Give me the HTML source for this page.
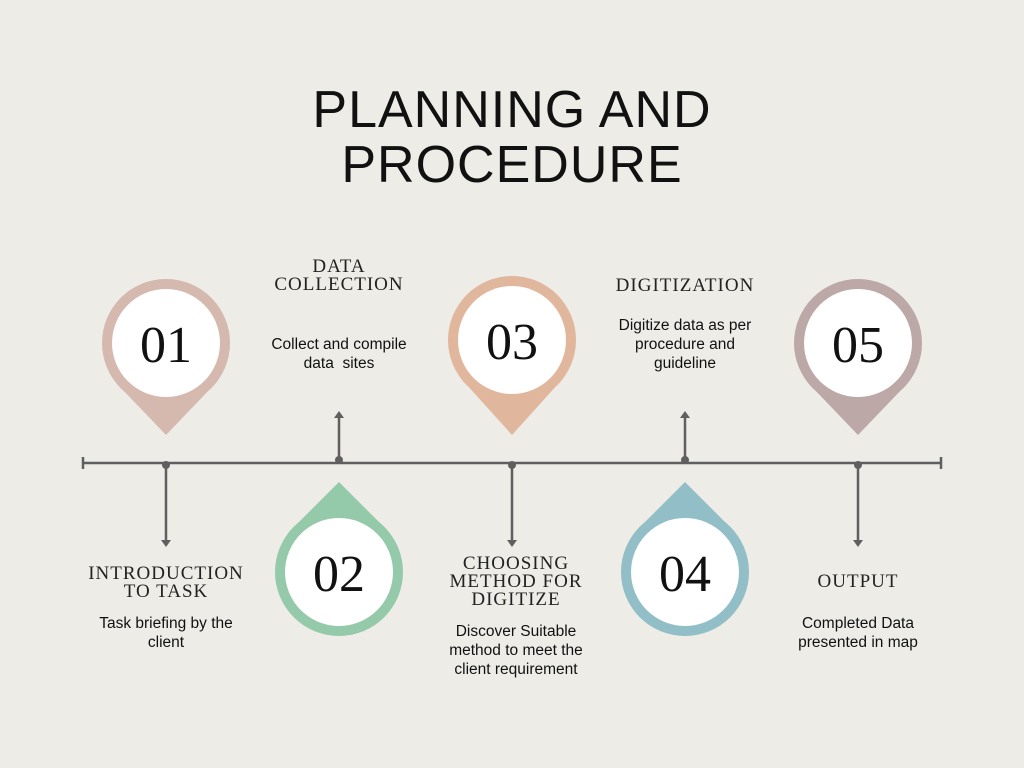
<!DOCTYPE html>
<html><head><meta charset="utf-8"><style>
html,body{margin:0;padding:0}
body{width:1024px;height:768px;background:#edece7;position:relative;overflow:hidden;font-family:"Liberation Sans",sans-serif}
.t{position:absolute;left:0;width:1024px;text-align:center;font-family:"Liberation Sans",sans-serif;font-size:52px;color:#111;letter-spacing:1px;line-height:56px}
.h{position:absolute;text-align:center;font-family:"Liberation Serif",serif;font-size:19px;line-height:18px;color:#222;letter-spacing:1px;transform:translateX(-50%);white-space:nowrap}
.d{position:absolute;text-align:center;font-family:"Liberation Sans",sans-serif;font-size:15.5px;line-height:19px;color:#111;transform:translateX(-50%);white-space:nowrap}
</style></head><body>
<div class="t" style="top:82px">PLANNING AND</div>
<div class="t" style="top:137px">PROCEDURE</div>
<svg width="1024" height="768" style="position:absolute;left:0;top:0">
<g stroke="#5f5f5f" stroke-width="2.5" fill="none">
<line x1="83" y1="463" x2="941" y2="463"/>
<line x1="83" y1="457" x2="83" y2="469"/><line x1="941" y1="457" x2="941" y2="469"/>
<line x1="166" y1="463" x2="166" y2="540"/>
<line x1="339" y1="463" x2="339" y2="418"/>
<line x1="512" y1="463" x2="512" y2="540"/>
<line x1="685" y1="463" x2="685" y2="418"/>
<line x1="858" y1="463" x2="858" y2="540"/>
</g>
<g fill="#5f5f5f">
<circle cx="166" cy="465" r="4"/><circle cx="339" cy="460" r="4"/><circle cx="512" cy="465" r="4"/><circle cx="685" cy="460" r="4"/><circle cx="858" cy="465" r="4"/>
<polygon points="161,540 171,540 166,547"/><polygon points="507,540 517,540 512,547"/><polygon points="853,540 863,540 858,547"/>
<polygon points="334,418 344,418 339,411"/><polygon points="680,418 690,418 685,411"/>
</g>
<!-- down pins -->
<g>
<circle cx="166" cy="343" r="64" fill="#d5b8ae"/><polygon points="120,387 212,387 166,435" fill="#d5b8ae"/><circle cx="166" cy="343" r="54" fill="#fff"/>
<circle cx="512" cy="340" r="64" fill="#e0b79c"/><polygon points="466,384 558,384 512,435" fill="#e0b79c"/><circle cx="512" cy="340" r="54" fill="#fff"/>
<circle cx="858" cy="343" r="64" fill="#bda8a8"/><polygon points="812,387 904,387 858,435" fill="#bda8a8"/><circle cx="858" cy="343" r="54" fill="#fff"/>
<circle cx="339" cy="572" r="64" fill="#94c9a9"/><polygon points="293,528 385,528 339,482" fill="#94c9a9"/><circle cx="339" cy="572" r="54" fill="#fff"/>
<circle cx="685" cy="572" r="64" fill="#91bec7"/><polygon points="639,528 731,528 685,482" fill="#91bec7"/><circle cx="685" cy="572" r="54" fill="#fff"/>
</g>
<g font-family="Liberation Serif,serif" font-size="52" fill="#111" text-anchor="middle">
<text x="166" y="362">01</text><text x="512" y="359">03</text><text x="858" y="362">05</text>
<text x="339" y="591">02</text><text x="685" y="591">04</text>
</g>
</svg>
<div class="h" style="left:339px;top:258px">DATA<br>COLLECTION</div>
<div class="d" style="left:339px;top:335px">Collect and compile<br>data &nbsp;sites</div>
<div class="h" style="left:685px;top:277px">DIGITIZATION</div>
<div class="d" style="left:685px;top:316px">Digitize data as per<br>procedure and<br>guideline</div>
<div class="h" style="left:166px;top:565px">INTRODUCTION<br>TO TASK</div>
<div class="d" style="left:166px;top:614px">Task briefing by the<br>client</div>
<div class="h" style="left:516px;top:555px">CHOOSING<br>METHOD FOR<br>DIGITIZE</div>
<div class="d" style="left:516px;top:622px">Discover Suitable<br>method to meet the<br>client requirement</div>
<div class="h" style="left:858px;top:573px">OUTPUT</div>
<div class="d" style="left:858px;top:614px">Completed Data<br>presented in map</div>
</body></html>
